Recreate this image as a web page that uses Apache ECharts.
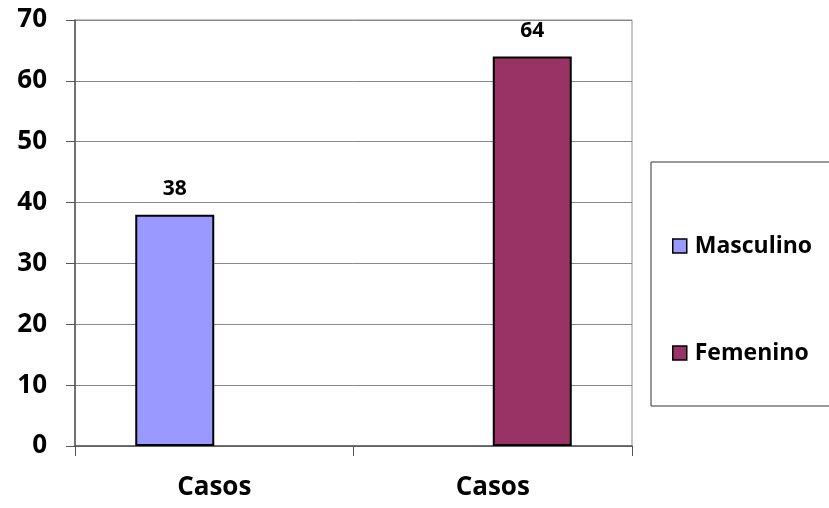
<!DOCTYPE html>
<html>
<head>
<meta charset="utf-8">
<script src="https://cdn.jsdelivr.net/npm/echarts@6/dist/echarts.min.js"></script>
<style>
  html, body { margin: 0; padding: 0; background: #fff; }
  #chart { width: 829px; height: 508px; }
</style>
</head>
<body>
<div id="chart"></div>
<script>
const categories = ['Casos', 'Casos'];
const masculino = [38, '-'];
const femenino = ['-', 64];
const yTicks = { min: 0, max: 70, interval: 10 };

const FONT = '"Open Sans", "Liberation Sans", sans-serif';

const myChart = echarts.init(document.getElementById('chart'));

const barLabel = {
  show: true,
  position: 'top',
  distance: 15,
  color: '#000',
  fontFamily: FONT,
  fontWeight: 'bold',
  fontSize: 21,
};

const option = {
  animation: false,
  backgroundColor: '#fff',
  grid: {
    left: 75,
    right: 197,
    top: 20,
    bottom: 62,
    show: true,
    borderColor: '#8c8c8c',
    borderWidth: 1,
  },
  legend: {
    orient: 'vertical',
    left: 651,
    top: 162,
    data: ['Masculino', 'Femenino'],
    icon: 'rect',
    itemWidth: 14,
    itemHeight: 14,
    itemGap: 83,
    padding: [72, 20, 41, 21],
    borderColor: '#333',
    borderWidth: 1,
    textStyle: {
      color: '#000',
      fontFamily: FONT,
      fontWeight: 'bold',
      fontSize: 23,
      lineHeight: 24,
      padding: [0, 0, 0, 3],
    },
    itemStyle: { borderColor: '#000', borderWidth: 1.5 },
  },
  xAxis: {
    type: 'category',
    data: categories,
    axisLine: { lineStyle: { color: '#555', width: 1.5 } },
    axisTick: { show: true, length: 10, alignWithLabel: false, lineStyle: { color: '#555' } },
    axisLabel: {
      margin: 29,
      color: '#000',
      fontFamily: FONT,
      fontWeight: 'bold',
      fontSize: 26,
    },
  },
  yAxis: {
    type: 'value',
    min: yTicks.min,
    max: yTicks.max,
    interval: yTicks.interval,
    axisLine: { show: true, lineStyle: { color: '#555', width: 1.5 } },
    axisTick: { show: true, length: 9, inside: false, lineStyle: { color: '#555' } },
    splitLine: { lineStyle: { color: '#888', width: 1 } },
    axisLabel: {
      margin: 28,
      color: '#000',
      fontFamily: FONT,
      fontWeight: 'bold',
      fontSize: 26,
    },
  },
  series: [
    {
      name: 'Masculino',
      type: 'bar',
      data: masculino,
      barWidth: 79,
      barGap: '0%',
      itemStyle: { color: '#9999ff', borderColor: '#000', borderWidth: 2 },
      label: barLabel,
    },
    {
      name: 'Femenino',
      type: 'bar',
      data: femenino,
      barWidth: 79,
      barGap: '0%',
      itemStyle: { color: '#993366', borderColor: '#000', borderWidth: 2 },
      label: barLabel,
    },
  ],
};

myChart.setOption(option);
</script>
</body>
</html>
